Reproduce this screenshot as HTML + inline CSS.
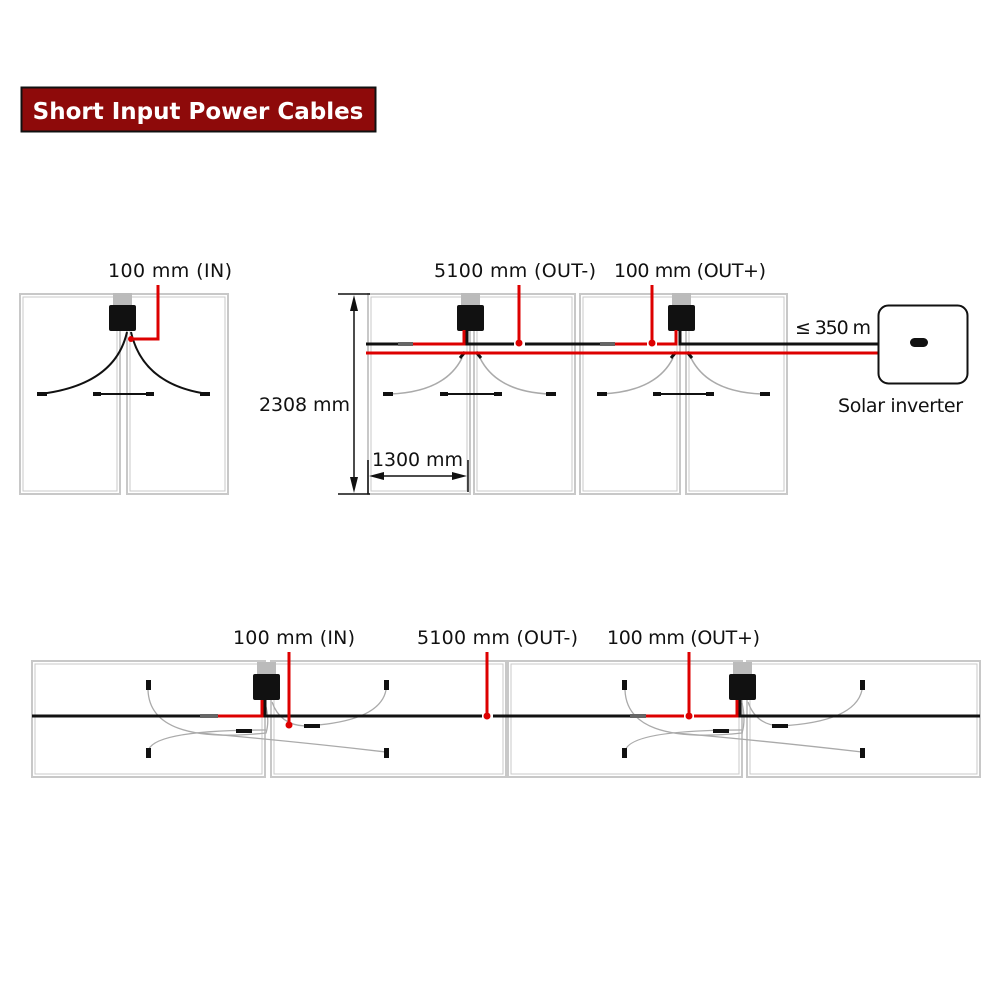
<!DOCTYPE html>
<html><head><style>
html,body{margin:0;padding:0;background:#fff;}
svg{display:block;}
text{font-family:"DejaVu Sans","Liberation Sans",sans-serif;fill:#111;}
</style></head><body>
<svg width="1000" height="1000" viewBox="0 0 1000 1000" xmlns="http://www.w3.org/2000/svg">
<defs>
<g id="jb">
 <rect x="4" y="-12" width="19" height="12" fill="#bbb"/>
 <rect x="0" y="0" width="27" height="26" rx="2" fill="#111"/>
</g>
</defs>
<!-- title -->
<rect x="21.5" y="87.5" width="354" height="44" fill="#8e0a0a" stroke="#111" stroke-width="2"/>
<text x="198" y="119" text-anchor="middle" font-size="23" font-weight="bold" style="fill:#fff;font-family:'DejaVu Sans',sans-serif">Short Input Power Cables</text>

<g fill="none" stroke="#c8c8c8" stroke-width="2">
 <rect x="20" y="294" width="100" height="200"/><rect x="23" y="297" width="94" height="194" stroke-width="1"/>
 <rect x="127" y="294" width="101" height="200"/><rect x="130" y="297" width="95" height="194" stroke-width="1"/>
 <rect x="368" y="294" width="102" height="200"/><rect x="371" y="297" width="96" height="194" stroke-width="1"/>
 <rect x="474" y="294" width="101" height="200"/><rect x="477" y="297" width="95" height="194" stroke-width="1"/>
 <rect x="580" y="294" width="100" height="200"/><rect x="583" y="297" width="94" height="194" stroke-width="1"/>
 <rect x="686" y="294" width="101" height="200"/><rect x="689" y="297" width="95" height="194" stroke-width="1"/>
 <rect x="32" y="661" width="233" height="116"/><rect x="35" y="664" width="227" height="110" stroke-width="1"/>
 <rect x="271" y="661" width="235" height="116"/><rect x="274" y="664" width="229" height="110" stroke-width="1"/>
 <rect x="508" y="661" width="234" height="116"/><rect x="511" y="664" width="228" height="110" stroke-width="1"/>
 <rect x="747" y="661" width="233" height="116"/><rect x="750" y="664" width="227" height="110" stroke-width="1"/>
</g>

<use href="#jb" x="109" y="305"/>
<g fill="none" stroke="#111" stroke-width="2">
 <path d="M127 332 Q115 385 40 394"/><path d="M131 332 Q143 385 208 394"/>
 <line x1="95" y1="394" x2="152" y2="394"/>
</g>
<g fill="#111"><rect x="37" y="392" width="10" height="4"/><rect x="200" y="392" width="10" height="4"/><rect x="93" y="392" width="8" height="4"/><rect x="146" y="392" width="8" height="4"/></g>
<path d="M131 339 H158 V285" fill="none" stroke="#d00" stroke-width="3"/>
<circle cx="131" cy="339" r="3" fill="#d00"/>
<text x="108" y="277" font-size="19" textLength="124">100 mm (IN)</text>

<use href="#jb" x="457" y="305"/>
<use href="#jb" x="668" y="305"/>
<g fill="none" stroke="#aaa" stroke-width="1.5">
 <path d="M462 358 Q445 392 390 394"/><path d="M480 358 Q497 392 550 394"/>
 <path d="M673 358 Q656 392 600 394"/><path d="M691 358 Q708 392 762 394"/>
</g>
<g fill="#111"><rect x="383" y="392" width="10" height="4"/><rect x="546" y="392" width="10" height="4"/><rect x="597" y="392" width="10" height="4"/><rect x="760" y="392" width="10" height="4"/></g>
<g stroke="#111" stroke-width="2"><line x1="441" y1="394" x2="500" y2="394"/><line x1="654" y1="394" x2="712" y2="394"/></g>
<g fill="#111"><rect x="440" y="392" width="8" height="4"/><rect x="494" y="392" width="8" height="4"/><rect x="653" y="392" width="8" height="4"/><rect x="706" y="392" width="8" height="4"/></g>
<g stroke="#111" stroke-width="3"><line x1="460" y1="358" x2="465" y2="352"/><line x1="481" y1="358" x2="476" y2="352"/><line x1="671" y1="358" x2="676" y2="352"/><line x1="692" y1="358" x2="687" y2="352"/></g>

<g fill="none" stroke-width="3">
 <path d="M366 344 H413" stroke="#111"/>
 <path d="M413 344 H464 V330" stroke="#d00"/>
 <path d="M467 330 V344 H514" stroke="#111"/>
 <path d="M525 344 H600" stroke="#111"/>
 <path d="M600 344 H647 M657 344 H676 V330" stroke="#d00"/>
 <path d="M680 330 V344 H878" stroke="#111"/>
 <path d="M366 353 H878" stroke="#d00"/>
 <path d="M519 285 V343 M652 285 V343" stroke="#d00"/>
</g>
<circle cx="519" cy="343" r="3.5" fill="#d00"/><circle cx="652" cy="343" r="3.5" fill="#d00"/>
<rect x="398" y="342" width="15" height="4" fill="#666"/><rect x="600" y="342" width="15" height="4" fill="#666"/>
<text x="434" y="277" font-size="19" textLength="162">5100 mm (OUT-)</text>
<text x="614" y="277" font-size="19" textLength="152">100 mm (OUT+)</text>

<rect x="878.5" y="305.5" width="89" height="78" rx="10" fill="#fff" stroke="#111" stroke-width="2"/>
<rect x="910" y="338" width="18" height="9" rx="4.5" fill="#111"/>
<text x="795" y="334" font-size="19" textLength="76">≤ 350 m</text>
<text x="838" y="412" font-size="19" textLength="125">Solar inverter</text>

<g stroke="#111" stroke-width="1.5" fill="none">
 <line x1="338" y1="294" x2="370" y2="294"/><line x1="338" y1="494" x2="370" y2="494"/>
 <line x1="354" y1="300" x2="354" y2="488"/>
 <line x1="368" y1="460" x2="368" y2="494"/><line x1="468" y1="460" x2="468" y2="492"/>
 <line x1="374" y1="476" x2="462" y2="476"/>
</g>
<g fill="#111">
 <path d="M354 295 L350 311 L358 311Z"/><path d="M354 493 L350 477 L358 477Z"/>
 <path d="M369 476 L384 472 L384 480Z"/><path d="M467 476 L452 472 L452 480Z"/>
</g>
<text x="259" y="411" font-size="19" textLength="91">2308 mm</text>
<text x="372" y="466" font-size="19" textLength="91">1300 mm</text>

<use href="#jb" x="253" y="674"/>
<use href="#jb" x="729" y="674"/>
<g fill="none" stroke="#aaa" stroke-width="1.3">
 <path d="M148 690 Q150 745 266 733 Q270 720 265 703"/>
 <path d="M148 752 Q150 730 266 730"/>
 <path d="M272 702 Q280 725 305 726 Q380 722 386 690"/>
 <path d="M200 733 Q300 742 386 752"/>
 <path d="M625 690 Q627 745 742 733 Q746 720 742 703"/>
 <path d="M625 752 Q627 730 742 730"/>
 <path d="M748 702 Q756 725 780 726 Q855 722 862 690"/>
 <path d="M676 733 Q776 742 862 752"/>
</g>
<g fill="#111">
 <rect x="146" y="680" width="5" height="10"/><rect x="146" y="748" width="5" height="10"/>
 <rect x="384" y="680" width="5" height="10"/><rect x="384" y="748" width="5" height="10"/>
 <rect x="622" y="680" width="5" height="10"/><rect x="622" y="748" width="5" height="10"/>
 <rect x="860" y="680" width="5" height="10"/><rect x="860" y="748" width="5" height="10"/>
 <rect x="236" y="729" width="16" height="4"/><rect x="304" y="724" width="16" height="4"/>
 <rect x="713" y="729" width="16" height="4"/><rect x="772" y="724" width="16" height="4"/>
</g>
<g fill="none" stroke-width="3">
 <path d="M32 716 H218" stroke="#111"/>
 <path d="M218 716 H262 V700" stroke="#d00"/>
 <path d="M265 700 V716 H482" stroke="#111"/>
 <path d="M493 716 H645" stroke="#111"/>
 <path d="M645 716 H684 M694 716 H737 V700" stroke="#d00"/>
 <path d="M740 700 V716 H980" stroke="#111"/>
 <path d="M289 652 V725 M487 652 V716 M689 652 V716" stroke="#d00"/>
</g>
<rect x="200" y="714" width="18" height="4" fill="#666"/><rect x="630" y="714" width="16" height="4" fill="#666"/>
<circle cx="289" cy="725" r="3.5" fill="#d00"/><circle cx="487" cy="716" r="3.5" fill="#d00"/><circle cx="689" cy="716" r="3.5" fill="#d00"/>
<text x="233" y="644" font-size="19" textLength="122">100 mm (IN)</text>
<text x="417" y="644" font-size="19" textLength="161">5100 mm (OUT-)</text>
<text x="607" y="644" font-size="19" textLength="153">100 mm (OUT+)</text>
</svg>
</body></html>
